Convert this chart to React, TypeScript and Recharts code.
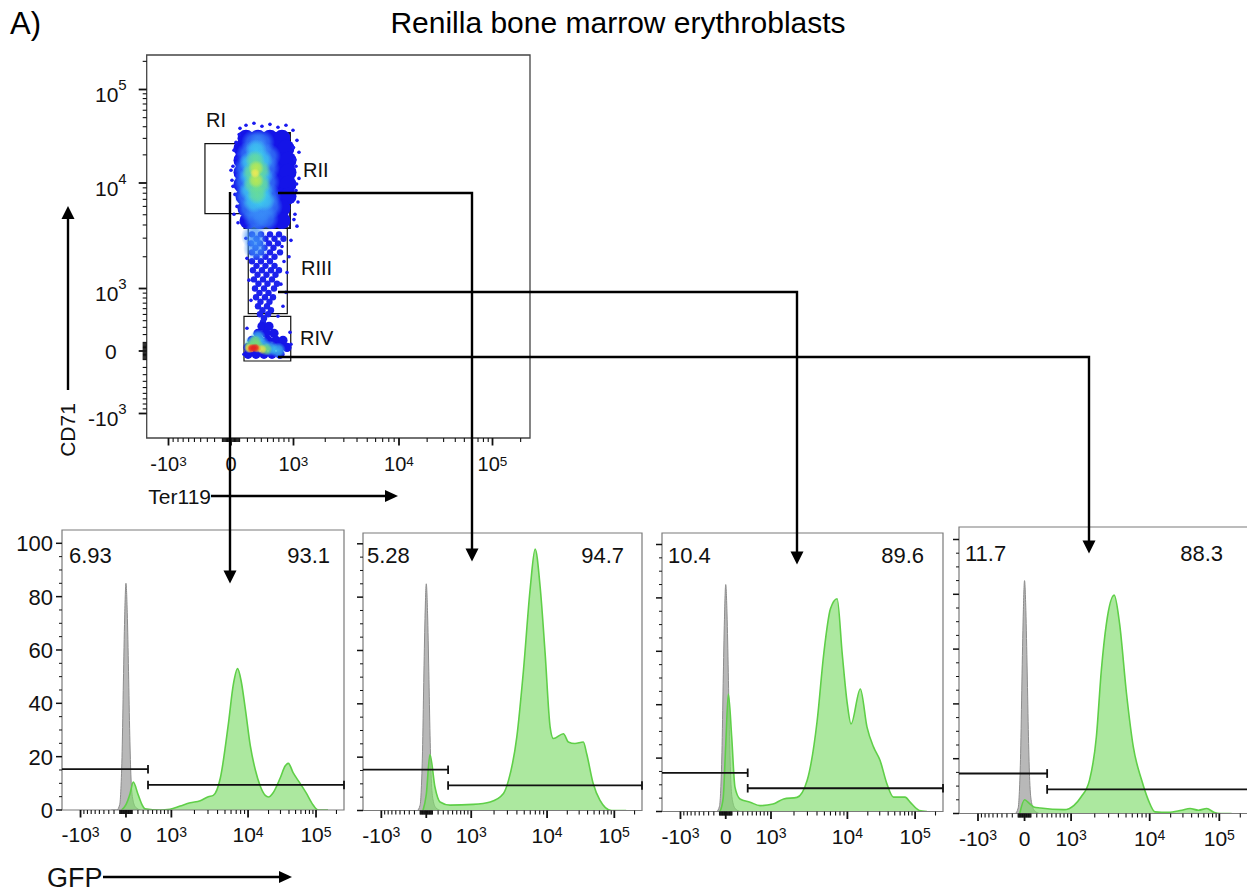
import React from 'react';
import {
  ComposedChart, ScatterChart, Scatter, Area, XAxis, YAxis, ReferenceArea, ReferenceLine,
} from 'recharts';

const FONT = '"Liberation Sans", Arial, Helvetica, sans-serif';

// biexponential-style display transform (raw intensity -> display units)
function biex(v: number): number {
  const a = Math.abs(v);
  let t: number;
  if (a <= 1000) t = 207.6 * Math.log10(1 + a / 1000);
  else if (a <= 10000) t = 62.5 + 105.5 * Math.log10(a / 1000);
  else t = 168 + 93.5 * Math.log10(a / 10000);
  return v < 0 ? -t : t;
}

// ---------- axis ticks ----------
const biexMajor = [-1000, 0, 1000, 10000, 100000];
const biexMajorBase = ['-10', '0', '10', '10', '10'];
const biexMajorExp = ['3', '', '3', '4', '5'];
const biexMinor = [
  -900, -800, -700, -600, -500, -400, -300, -200, -100,
  -90, -80, -70, -60, -50, -40, -30, -20, -10,
  10, 20, 30, 40, 50, 60, 70, 80, 90,
  100, 200, 300, 400, 500, 600, 700, 800, 900,
  2000, 3000, 4000, 5000, 6000, 7000, 8000, 9000,
  20000, 30000, 40000, 50000, 60000, 70000, 80000, 90000, 200000,
];
const countTicks = [0, 5, 10, 15, 20, 25, 30, 35, 40, 45, 50, 55, 60, 65, 70, 75, 80, 85, 90, 95, 100];
const countLabels = [0, 20, 40, 60, 80, 100];

// ---------- histograms (GFP raw value -> % of mode) ----------
const isotypeGfp = [-250, -150, -100, -80, -60, -40, -20, 0, 20, 40, 60, 80, 110, 160, 250];
const isotypeCount = [0, 0, 2, 8, 22, 48, 72, 85, 74, 52, 28, 12, 4, 1, 0];

const riGfp = [-70, 0, 63, 118, 200, 278, 337, 680, 960, 1300, 1760, 2380, 3030, 3520, 4350, 5520, 6420, 7300, 8170, 9200, 10800, 12800, 15100, 17900, 20000, 23400, 29700, 35100, 39200, 46000, 58300, 71300, 87300, 107000, 150000];
const riCount = [0, 2, 6, 10.5, 6, 2, 0.5, 0, 0.3, 1.5, 2.7, 3.5, 5, 5.5, 12, 32, 47, 53, 48, 38, 24, 15, 9, 5.5, 4.9, 6.5, 12, 16.5, 17.5, 14, 10, 6.5, 2.5, 0, 0];

const riiGfp = [-52, 0, 58, 143, 236, 442, 1060, 1780, 2660, 3100, 3990, 4880, 6010, 6960, 8110, 9430, 11100, 12400, 17500, 20700, 26000, 34600, 38800, 48500, 61000, 91000, 150000];
const riiCount = [0, 6, 21, 8.8, 3.2, 2, 2.3, 3.2, 6.4, 11.3, 27.6, 52.5, 83.7, 98, 83.7, 58.8, 31.3, 27, 28.8, 25.7, 25.1, 25.7, 21.3, 10.1, 3.9, 0, 0];

const riiiGfp = [-92, -40, 0, 41, 96, 152, 244, 452, 691, 1063, 1465, 2190, 2970, 4020, 4900, 6000, 7340, 8560, 9970, 11330, 15520, 19480, 24370, 30410, 38300, 47870, 71000, 84400, 115000, 150000];
const riiiCount = [0, 5, 25, 44, 27.8, 9.1, 4.7, 3.5, 2.2, 2.8, 4.7, 5.3, 11.6, 34, 59, 75.9, 79.7, 59, 40.3, 32.8, 45.9, 31.6, 24.1, 19.1, 10.4, 5.4, 5.4, 3.5, 0.4, 0];

const rivGfp = [-74, 0, 60, 147, 269, 800, 1090, 1345, 1716, 2097, 2426, 2814, 3537, 4140, 5070, 6190, 7900, 9620, 11930, 18590, 28870, 38000, 50100, 66100, 83300, 102500, 150000];
const rivCount = [0, 5, 4, 2.4, 2, 1.4, 3, 6.1, 12.2, 28, 52.3, 69.3, 79.7, 69.3, 43.8, 24.3, 12.2, 4.9, 0.6, 0.4, 1.2, 1.8, 1.2, 1.8, 0.5, 0, 0];

const gfpGate = 400;
const negPct = ['6.93', '5.28', '10.4', '11.7'];
const posPct = ['93.1', '94.7', '89.6', '88.3'];
const negGateLevel = [15.3, 15.3, 14.5, 14.6];
const posGateLevel = [9.4, 9.4, 8.7, 8.8];

// ---------- dot plot events [Ter119, CD71] ----------
const blueBulk = [
  [181, 30100], [349, 30100], [541, 30100], [760, 30100],
  [130, 23500], [262, 23500], [442, 23500], [647, 23500], [840, 23500],
  [130, 17500], [290, 17500], [474, 17500], [684, 17500], [882, 17500],
  [130, 13000], [290, 13000], [474, 13000], [684, 13000], [882, 13000],
  [130, 9750], [290, 9750], [474, 9750], [684, 9750], [882, 9750],
  [155, 7500], [320, 7500], [508, 7500], [722, 7500], [882, 7500],
  [181, 5750], [349, 5750], [541, 5750], [760, 5750],
  [208, 4400], [379, 4400], [576, 4400], [760, 4400],
];
const blueSparse = [
  [34, 22400], [57, 18400], [22, 15100], [11, 10700], [45, 7800], [69, 6000], [34, 5050], [81, 4200],
  [57, 27200], [105, 38400], [181, 41400], [290, 43500], [410, 40400], [541, 42400], [684, 39400],
  [840, 41400], [989, 36600], [1079, 28600], [1127, 21300], [1056, 15100], [1127, 11200], [1056, 8500],
  [1103, 6600], [1033, 5050], [1079, 3900], [945, 2860], [903, 2000], [861, 1420], [840, 915], [780, 642],
  [684, 470], [181, 2990], [194, 1930], [221, 1200], [248, 754], [924, 230], [945, 77], [155, -37],
  [194, 286], [0, 13700], [22, 9300], [1000, 24000], [1030, 17800], [1070, 9800], [1010, 4500],
  [60, 12000], [80, 20500], [95, 33000], [760, 2500], [800, 1800], [740, 1100],
];
const blueStream = [
  [262, 3260], [394, 3260], [541, 3260], [703, 3260],
  [327, 2960], [466, 2960], [620, 2960], [790, 2960],
  [248, 2680], [379, 2680], [524, 2680], [684, 2680],
  [312, 2430], [450, 2430], [602, 2430],
  [262, 2200], [394, 2200], [541, 2200], [722, 2200],
  [327, 2000], [466, 2000], [620, 2000],
  [262, 1810], [394, 1810], [541, 1810],
  [327, 1640], [466, 1640], [620, 1640],
  [276, 1490], [410, 1490], [558, 1490], [703, 1490],
  [342, 1350], [482, 1350], [638, 1350],
  [290, 1220], [426, 1220], [576, 1220],
  [356, 1110], [499, 1110], [665, 1110],
  [305, 1000], [442, 1000], [611, 1000],
  [371, 905], [516, 905],
  [320, 815], [458, 815], [593, 815],
  [387, 726], [532, 726],
  [349, 642], [491, 642],
  [418, 571], [558, 571],
  [379, 503], [508, 503],
  [442, 437],
  [426, 375],
];
const blueLow = [
  [410, 315], [524, 315],
  [349, 217], [474, 217], [611, 217],
  [262, 126], [379, 126], [508, 126], [647, 126], [780, 126],
  [208, 41], [320, 41], [442, 41], [576, 41], [722, 41], [861, 41],
  [208, -37], [320, -37], [442, -37], [576, -37], [722, -37],
];
const midBlue = [
  [290, 27200], [410, 27200], [221, 20300], [364, 21300], [508, 19300], [181, 14400], [320, 15100],
  [491, 14400], [181, 10200], [320, 10700], [491, 10200], [194, 7500], [334, 7800], [508, 7500],
  [234, 5750], [394, 5750], [541, 6000], [320, 4600], [474, 4600], [290, 3120], [320, 2400],
];
const cyanCore = [[320, 22400], [234, 16600], [410, 17500], [234, 11800], [410, 11800], [234, 8500], [410, 8500], [290, 6600], [442, 6850]];
const greenCore = [[305, 17500], [262, 13000], [394, 13700], [276, 9750], [394, 9750], [334, 7800]];
const limeCore = [[320, 14400], [320, 10700]];
const yellowCore = [[305, 12700]];
const lowCyan = [[262, 89], [410, 77], [541, 30], [349, 164], [684, 8]];
const lowGreen = [[234, 53], [349, 53], [474, 19], [305, 114]];
const lowYellow = [[221, 30], [410, 19]];
const lowOrange = [[248, 30], [334, 30]];
const lowRed = [[262, 30], [305, 36]];

// gates [Ter119 range], [CD71 range]
const gateNames = ['RI', 'RII', 'RIII', 'RIV'];
const gateTer = [[-335, 146], [160, 925], [211, 867], [155, 940]];
const gateCd71 = [[5130, 26400], [3740, 34300], [514, 3740], [-117, 469]];

// ---------- derived tables ----------
const biexTicks = [...biexMajor, ...biexMinor].map(biex).sort((a, b) => a - b);
const majorIndex = (v: number) => biexMajor.findIndex((m) => Math.abs(biex(m) - v) < 1e-6);

const histRows = (gfp: number[], count: number[]) => {
  const rows: any[] = [
    ...isotypeGfp.map((g, i) => ({ x: biex(g), gray: isotypeCount[i] })),
    ...gfp.map((g, i) => ({ x: biex(g), green: count[i] })),
  ];
  return rows.sort((a, b) => a.x - b.x);
};
const histTables = [
  histRows(riGfp, riCount), histRows(riiGfp, riiCount), histRows(riiiGfp, riiiCount), histRows(rivGfp, rivCount),
];
const toPts = (arr: number[][]) => arr.map(([t, c]) => ({ x: biex(t), y: biex(c) }));

// ---------- layout ----------
const HX: [number, number] = [-88, 300];
const SX: [number, number] = [-84.3, 299];
const SY: [number, number] = [-87, 296];
const panels = [
  { left: 62, top: 530, w: 282, h: 280, k: 2.667, lo: 69, hi: 330, ty: 563 },
  { left: 363, top: 532.5, w: 279, h: 277.5, k: 2.667, lo: 367, hi: 624, ty: 563 },
  { left: 662, top: 532.5, w: 281, h: 278.5, k: 2.67, lo: 668, hi: 924, ty: 563 },
  { left: 959, top: 527, w: 289, h: 286.5, k: 2.74, lo: 965, hi: 1223, ty: 561 },
];

// ---------- tick renderers ----------
const biexXTick = (dy: number, fs: number, sup: number) => (props: any) => {
  const { x, y, payload } = props;
  const i = majorIndex(payload.value);
  const major = i >= 0;
  return (
    <g>
      <line x1={x} x2={x} y1={y} y2={y + (major ? 7.5 : 4)} stroke="#111" strokeWidth={major ? 1.8 : 1.1} />
      {major && (
        <text x={x} y={y + dy} textAnchor="middle" fontSize={fs} fill="#111" fontFamily={FONT}>
          {biexMajorBase[i]}
          {biexMajorExp[i] && <tspan fontSize={sup} dy={-5.5}>{biexMajorExp[i]}</tspan>}
        </text>
      )}
    </g>
  );
};

const biexYTick = (props: any) => {
  const { x, y, payload } = props;
  const i = majorIndex(payload.value);
  const major = i >= 0;
  const exp = major ? biexMajorExp[i] : '';
  return (
    <g>
      <line x1={x} x2={x - (major ? 8 : 4)} y1={y} y2={y} stroke="#111" strokeWidth={major ? 1.8 : 1.1} />
      {major && (
        <text x={exp ? x - 20 : x - 30} y={exp ? y + 12.5 : y + 7.5} textAnchor="end" fontSize={21} fill="#111" fontFamily={FONT}>
          {biexMajorBase[i]}
          {exp && <tspan fontSize={15} dy={-12}>{exp}</tspan>}
        </text>
      )}
    </g>
  );
};

const countTick = (labelled: boolean) => (props: any) => {
  const { x, y, payload } = props;
  const major = countLabels.includes(payload.value);
  return (
    <g>
      <line x1={x} x2={x - (major ? 6 : 3)} y1={y} y2={y} stroke="#111" strokeWidth={major ? 1.5 : 1} />
      {labelled && major && (
        <text x={x - 9} y={y + 8} textAnchor="end" fontSize={22} fill="#111" fontFamily={FONT}>
          {payload.value}
        </text>
      )}
    </g>
  );
};

const dot = (r: number, fill: string) => (p: any) => <circle cx={p.cx} cy={p.cy} r={r} fill={fill} />;

// soft, feathered marker for the density layers
const glow = (r: number, fill: string, peak: number) => (p: any) => {
  const id = `glow-${fill.slice(1)}-${r}`;
  return (
    <g>
      <defs>
        <radialGradient id={id}>
          <stop offset="0" stopColor={fill} stopOpacity={peak} />
          <stop offset="0.55" stopColor={fill} stopOpacity={peak * 0.75} />
          <stop offset="1" stopColor={fill} stopOpacity={0} />
        </radialGradient>
      </defs>
      <circle cx={p.cx} cy={p.cy} r={r} fill={`url(#${id})`} />
    </g>
  );
};

function HistPanel({ i }: { i: number }) {
  const p = panels[i];
  const yw = i === 0 ? 52 : 12;
  const mt = 10;
  const xh = 46;
  const yMax = p.h / p.k;
  const g = biex(gfpGate);
  const neg = negGateLevel[i];
  const pos = posGateLevel[i];
  const cap = 1.6;
  return (
    <div style={{ position: 'absolute', left: p.left - yw, top: p.top - mt }}>
      <ComposedChart width={yw + p.w + 6} height={mt + p.h + xh} data={histTables[i]} margin={{ top: mt, right: 6, bottom: 0, left: 0 }}>
        <XAxis type="number" dataKey="x" domain={HX} allowDataOverflow ticks={biexTicks} interval={0}
          tickSize={0} tickMargin={0} axisLine={false} tickLine={false} height={xh} tick={biexXTick(32, 21, 14)} />
        <YAxis type="number" domain={[0, yMax]} allowDataOverflow ticks={countTicks} interval={0}
          tickSize={0} tickMargin={0} axisLine={false} tickLine={false} width={yw} tick={countTick(i === 0)} />
        <Area dataKey="gray" type="monotone" connectNulls fill="#9a9a9a" fillOpacity={0.7} stroke="#8c8c8c" strokeWidth={1} isAnimationActive={false} dot={false} activeDot={false} />
        <Area dataKey="green" type="monotone" connectNulls fill="#7fdc6c" fillOpacity={0.65} stroke="#5fcf48" strokeWidth={1.6} isAnimationActive={false} dot={false} activeDot={false} />
        <ReferenceArea x1={HX[0]} x2={HX[1]} y1={0} y2={yMax} fill="none" stroke="#7a7a7a" strokeWidth={1.2} ifOverflow="visible" />
        <ReferenceLine segment={[{ x: HX[0], y: neg }, { x: g, y: neg }]} stroke="#111" strokeWidth={1.8} ifOverflow="visible" />
        <ReferenceLine segment={[{ x: g, y: neg - cap }, { x: g, y: neg + cap }]} stroke="#111" strokeWidth={1.8} ifOverflow="visible" />
        <ReferenceLine segment={[{ x: g, y: pos }, { x: HX[1], y: pos }]} stroke="#111" strokeWidth={1.8} ifOverflow="visible" />
        <ReferenceLine segment={[{ x: g, y: pos - cap }, { x: g, y: pos + cap }]} stroke="#111" strokeWidth={1.8} ifOverflow="visible" />
        <ReferenceLine segment={[{ x: HX[1], y: pos - cap }, { x: HX[1], y: pos + cap }]} stroke="#111" strokeWidth={1.8} ifOverflow="visible" />
      </ComposedChart>
    </div>
  );
}

function DotPlot() {
  const layers: [number[][], (p: any) => React.ReactElement][] = [
    [blueBulk, dot(8.5, '#1414e8')],
    [blueSparse, dot(1.8, '#1a1af0')],
    [blueStream, dot(3.2, '#1c22ec')],
    [blueLow, dot(4.6, '#1515e8')],
    [midBlue, glow(13, '#3a8ff8', 0.8)],
    [cyanCore, glow(11, '#3fd0ec', 0.8)],
    [greenCore, glow(10, '#6fe08a', 0.8)],
    [limeCore, glow(8, '#c4ea4a', 0.85)],
    [yellowCore, glow(5, '#f2ea55', 0.9)],
    [lowCyan, glow(8, '#3fc8ec', 0.85)],
    [lowGreen, glow(6.5, '#7ddc6a', 0.85)],
    [lowYellow, glow(5, '#ece04a', 0.9)],
    [lowOrange, glow(4.5, '#f29a30', 0.95)],
    [lowRed, glow(4.5, '#e52222', 1)],
  ];
  return (
    <div style={{ position: 'absolute', left: 40, top: 40 }}>
      <ScatterChart width={505} height={448} margin={{ top: 15, right: 15, bottom: 0, left: 0 }}>
        <XAxis type="number" dataKey="x" domain={SX} allowDataOverflow ticks={biexTicks} interval={0}
          tickSize={0} tickMargin={0} axisLine={false} tickLine={false} height={50} tick={biexXTick(33, 20, 13.5)} />
        <YAxis type="number" dataKey="y" domain={SY} allowDataOverflow ticks={biexTicks} interval={0}
          tickSize={0} tickMargin={0} axisLine={false} tickLine={false} width={106.7} tick={biexYTick} />
        {layers.map(([pts, shape], k) => (
          <Scatter key={k} data={toPts(pts)} shape={shape} isAnimationActive={false} />
        ))}
        <ReferenceArea x1={SX[0]} x2={SX[1]} y1={SY[0]} y2={SY[1]} fill="none" stroke="#444" strokeWidth={1.3} ifOverflow="visible" />
        {gateNames.map((n, k) => (
          <ReferenceArea key={n} x1={biex(gateTer[k][0])} x2={biex(gateTer[k][1])} y1={biex(gateCd71[k][0])} y2={biex(gateCd71[k][1])}
            fill="none" stroke="#111" strokeWidth={n === 'RII' ? 1.8 : 1.2} ifOverflow="visible" />
        ))}
      </ScatterChart>
    </div>
  );
}

function Arrow({ d, tip }: { d: string; tip: [number, number, 'down' | 'up' | 'right'] }) {
  const [x, y, dir] = tip;
  const pts = dir === 'down' ? `${x - 6.5},${y - 13} ${x + 6.5},${y - 13} ${x},${y}`
    : dir === 'up' ? `${x - 6.5},${y + 13} ${x + 6.5},${y + 13} ${x},${y}`
    : `${x - 13},${y - 6} ${x - 13},${y + 6} ${x},${y}`;
  return (
    <g>
      <path d={d} fill="none" stroke="#000" strokeWidth={2.4} />
      <polygon points={pts} fill="#000" />
    </g>
  );
}

export default function App() {
  const gateLabelPos = [[206, 127], [303, 177], [301, 275], [300, 345]];
  return (
    <div style={{ position: 'absolute', left: 0, top: 0, width: 1247, height: 892, overflow: 'hidden', background: '#fff', fontFamily: FONT }}>
      <DotPlot />
      {panels.map((_, i) => <HistPanel key={i} i={i} />)}
      <svg width={1247} height={892} style={{ position: 'absolute', left: 0, top: 0, pointerEvents: 'none' }} fontFamily={FONT}>
        <text x={10} y={34} fontSize={31} fill="#000">A)</text>
        <text x={618} y={33} fontSize={30} textAnchor="middle" fill="#000">Renilla bone marrow erythroblasts</text>
        {gateNames.map((n, k) => (
          <text key={n} x={gateLabelPos[k][0]} y={gateLabelPos[k][1]} fontSize={20} fill="#111">{n}</text>
        ))}
        <text transform="translate(75,430) rotate(-90)" textAnchor="middle" fontSize={21} fill="#111">CD71</text>
        <Arrow d="M68 390 V219" tip={[68, 206, 'up']} />
        <text x={211} y={503.5} textAnchor="end" fontSize={21} fill="#111">Ter119</text>
        <Arrow d="M211 496 H386" tip={[398, 496, 'right']} />
        <text x={47} y={887} fontSize={27} fill="#111">GFP</text>
        <Arrow d="M103 877 H280" tip={[292, 877, 'right']} />
        <Arrow d="M230 192 V571" tip={[230, 583.5, 'down']} />
        <Arrow d="M278 193 H472 V549" tip={[472, 561.5, 'down']} />
        <Arrow d="M278 292 H797 V552" tip={[797, 564.5, 'down']} />
        <Arrow d="M278 357 H1089 V541" tip={[1089, 553.5, 'down']} />
        {panels.map((p, i) => (
          <g key={i} fontSize={22} fill="#111">
            <text x={p.lo} y={p.ty}>{negPct[i]}</text>
            <text x={p.hi} y={p.ty} textAnchor="end">{posPct[i]}</text>
          </g>
        ))}
      </svg>
    </div>
  );
}
